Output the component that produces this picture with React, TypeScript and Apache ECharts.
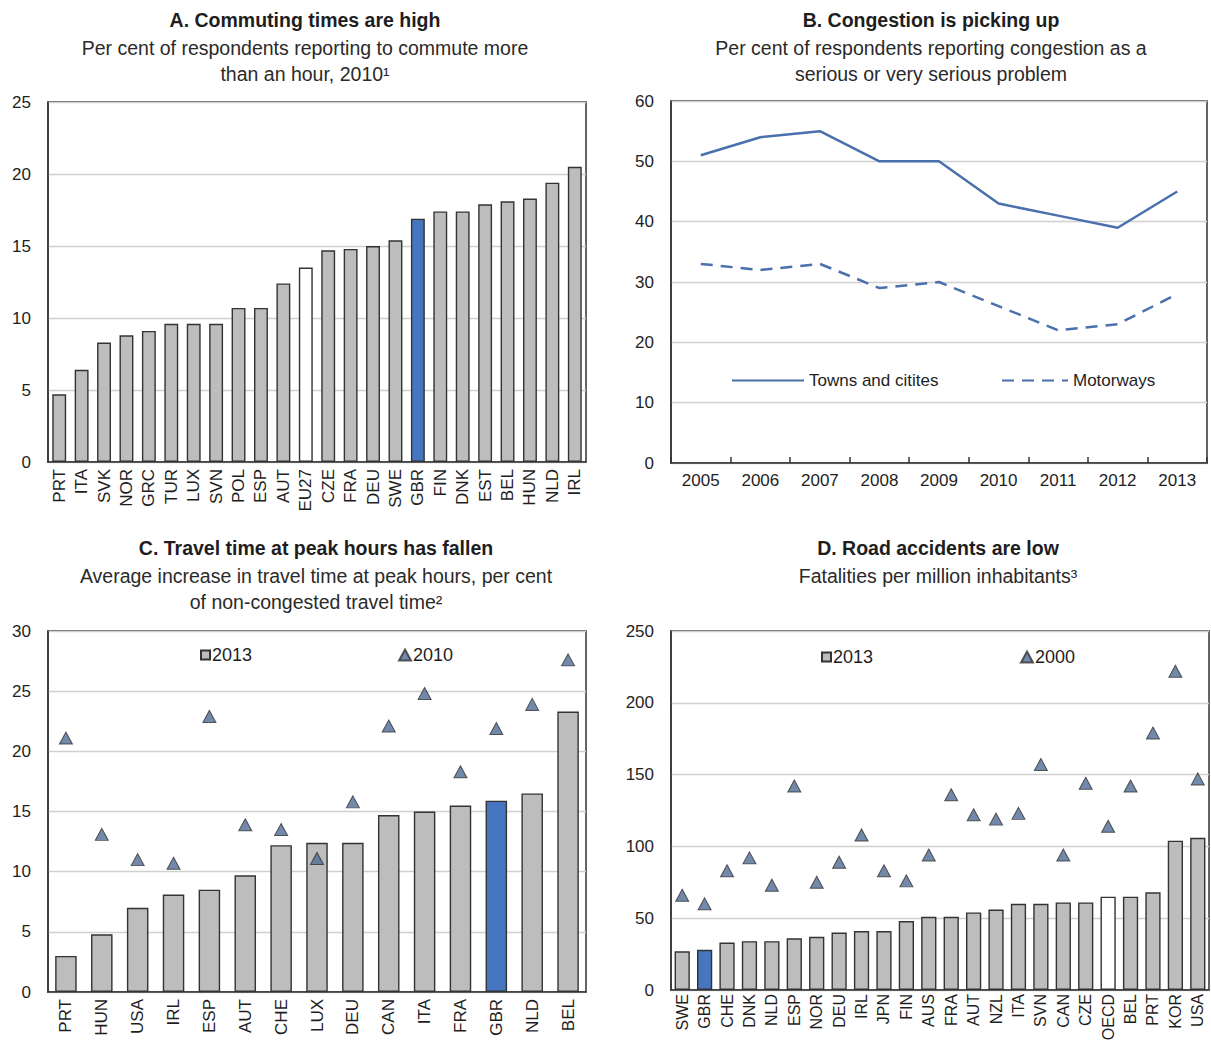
import { useEffect, useRef } from 'react';
import * as echarts from 'echarts';

// Panel A: commuting more than an hour, 2010
const commuteCountries = ['PRT', 'ITA', 'SVK', 'NOR', 'GRC', 'TUR', 'LUX', 'SVN', 'POL', 'ESP', 'AUT', 'EU27',
  'CZE', 'FRA', 'DEU', 'SWE', 'GBR', 'FIN', 'DNK', 'EST', 'BEL', 'HUN', 'NLD', 'IRL'];
const commuteValues = [4.7, 6.4, 8.3, 8.8, 9.1, 9.6, 9.6, 9.6, 10.7, 10.7, 12.4, 13.5,
  14.7, 14.8, 15.0, 15.4, 16.9, 17.4, 17.4, 17.9, 18.1, 18.3, 19.4, 20.5];

// Panel B: congestion as a serious problem
const congestionYears = ['2005', '2006', '2007', '2008', '2009', '2010', '2011', '2012', '2013'];
const townsValues = [51, 54, 55, 50, 50, 43, 41, 39, 45];
const motorwaysValues = [33, 32, 33, 29, 30, 26, 22, 23, 28];

// Panel C: travel time at peak hours
const peakCountries = ['PRT', 'HUN', 'USA', 'IRL', 'ESP', 'AUT', 'CHE', 'LUX', 'DEU', 'CAN', 'ITA', 'FRA', 'GBR', 'NLD', 'BEL'];
const peak2013 = [3.0, 4.8, 7.0, 8.1, 8.5, 9.7, 12.2, 12.4, 12.4, 14.7, 15.0, 15.5, 15.9, 16.5, 23.3];
const peak2010 = [21.1, 13.1, 11.0, 10.7, 22.9, 13.9, 13.5, 11.1, 15.8, 22.1, 24.8, 18.3, 21.9, 23.9, 27.6];

// Panel D: road fatalities per million inhabitants
const roadCountries = ['SWE', 'GBR', 'CHE', 'DNK', 'NLD', 'ESP', 'NOR', 'DEU', 'IRL', 'JPN', 'FIN', 'AUS',
  'FRA', 'AUT', 'NZL', 'ITA', 'SVN', 'CAN', 'CZE', 'OECD', 'BEL', 'PRT', 'KOR', 'USA'];
const road2013 = [27, 28, 33, 34, 34, 36, 37, 40, 41, 41, 48, 51, 51, 54, 56, 60, 60, 61, 61, 65, 65, 68, 104, 106];
const road2000 = [66, 60, 83, 92, 73, 142, 75, 89, 108, 83, 76, 94, 136, 122, 119, 123, 157, 94, 144, 114, 142, 179, 222, 147];

const FONT = "'Liberation Sans', Arial, sans-serif";
const TEXT = '#1e1e1e';
const GREY = '#bdbdbd';
const BLUE = '#4676c0';
const EDGE = '#333333';
const LINE = '#4a70ae';
const TRI = '#4f6b95';

function barItems(names: string[], values: number[], blue: string, white?: string) {
  return values.map((v, i) => {
    if (names[i] === blue) return { value: v, itemStyle: { color: BLUE } };
    if (names[i] === white) return { value: v, itemStyle: { color: '#ffffff' } };
    return v;
  });
}

function valueAxis(gridIndex: number, max: number, interval: number) {
  return {
    type: 'value',
    gridIndex,
    min: 0,
    max,
    interval,
    axisLine: { show: true, lineStyle: { color: EDGE, width: 1.5 } },
    axisTick: { show: false },
    axisLabel: { color: TEXT, fontSize: 17, fontFamily: FONT, margin: 17 },
    splitLine: { lineStyle: { color: '#d0d0d0', width: 1.3 } },
  };
}

function countryAxis(gridIndex: number, data: string[], fontSize = 17, margin = 7) {
  return {
    type: 'category',
    gridIndex,
    data,
    axisLine: { lineStyle: { color: EDGE, width: 1.5 } },
    axisTick: { show: false },
    axisLabel: { color: TEXT, fontSize, fontFamily: FONT, rotate: 90, margin, interval: 0 },
  };
}

function heading(x: number, y: number, title: string, lines: string[]) {
  const items: any[] = [{
    type: 'text', x, y,
    style: { text: title, fill: TEXT, font: `bold 19.5px ${FONT}`, align: 'center', verticalAlign: 'middle' },
  }];
  lines.forEach((t, i) => items.push({
    type: 'text', x, y: y + 28 + i * 26,
    style: { text: t, fill: '#2a2a2a', font: `19.5px ${FONT}`, align: 'center', verticalAlign: 'middle' },
  }));
  return items;
}

const legendText = { color: TEXT, fontSize: 18, fontFamily: FONT, padding: [0, 0, 0, -3] };

export default function App() {
  const chartRef = useRef<HTMLDivElement>(null);

  useEffect(() => {
    if (!chartRef.current) return;
    document.body.style.margin = '0';
    const chart = echarts.init(chartRef.current, undefined, { renderer: 'svg' });

    // the plots keep their own size; label room is handled by hand
    const frame = {
      show: true, borderColor: EDGE, borderWidth: 1.5, backgroundColor: 'transparent',
      containLabel: false, outerBoundsMode: 'none',
    };
    const barEdge = { borderColor: EDGE, borderWidth: 1.4 };
    const lineLegend = { textStyle: { color: TEXT, fontSize: 17, fontFamily: FONT }, selectedMode: false,
      itemHeight: 14, itemGap: 4, itemStyle: { opacity: 0 } };

    const option: any = {
      animation: false,
      backgroundColor: '#ffffff',
      graphic: [
        ...heading(305, 20, 'A. Commuting times are high',
          ['Per cent of respondents reporting to commute more', 'than an hour, 2010¹']),
        ...heading(931, 20, 'B. Congestion is picking up',
          ['Per cent of respondents reporting congestion as a', 'serious or very serious problem']),
        ...heading(316, 548, 'C. Travel time at peak hours has fallen',
          ['Average increase in travel time at peak hours, per cent', 'of non-congested travel time²']),
        ...heading(938, 548, 'D. Road accidents are low', ['Fatalities per million inhabitants³']),
      ],
      grid: [
        { left: 48, top: 102, width: 538, height: 360, ...frame },
        { left: 671, top: 101, width: 536, height: 362, ...frame },
        { left: 48, top: 631, width: 538, height: 361, ...frame },
        { left: 671, top: 631, width: 538, height: 359, ...frame },
      ],
      legend: [
        { data: ['Towns and citites'], left: 726, top: 367, itemWidth: 72, ...lineLegend },
        { data: ['Motorways'], left: 996, top: 367, itemWidth: 66, ...lineLegend },
        {
          data: ['2013'], left: 195, top: 641, icon: 'rect', itemWidth: 9, itemHeight: 9, itemGap: 2,
          textStyle: legendText, selectedMode: false,
        },
        {
          data: ['2010'], left: 393, top: 641, itemWidth: 12, itemHeight: 11,
          textStyle: legendText, selectedMode: false,
        },
        {
          data: ['2013'], left: 816, top: 643, icon: 'rect', itemWidth: 9, itemHeight: 9,
          textStyle: legendText, selectedMode: false,
        },
        {
          data: ['2000'], left: 1015, top: 643, itemWidth: 12, itemHeight: 11,
          textStyle: legendText, selectedMode: false,
        },
      ],
      xAxis: [
        countryAxis(0, commuteCountries),
        {
          type: 'category',
          gridIndex: 1,
          data: congestionYears,
          axisLine: { lineStyle: { color: EDGE, width: 1.5 } },
          axisTick: { show: true, inside: true, length: 6, lineStyle: { color: EDGE, width: 1.5 } },
          axisLabel: { color: TEXT, fontSize: 17, fontFamily: FONT, margin: 9 },
        },
        countryAxis(2, peakCountries),
        countryAxis(3, roadCountries, 16, 4),
      ],
      yAxis: [
        valueAxis(0, 25, 5),
        valueAxis(1, 60, 10),
        valueAxis(2, 30, 5),
        valueAxis(3, 250, 50),
      ],
      series: [
        {
          type: 'bar', name: 'Commuting', xAxisIndex: 0, yAxisIndex: 0, barWidth: '62%',
          itemStyle: { color: GREY, ...barEdge },
          data: barItems(commuteCountries, commuteValues, 'GBR', 'EU27'),
        },
        {
          type: 'line', name: 'Towns and citites', xAxisIndex: 1, yAxisIndex: 1, symbol: 'none',
          lineStyle: { color: LINE, width: 2.5 }, itemStyle: { color: LINE },
          data: townsValues,
        },
        {
          type: 'line', name: 'Motorways', xAxisIndex: 1, yAxisIndex: 1, symbol: 'none',
          lineStyle: { color: LINE, width: 2.5, type: [12, 8] }, itemStyle: { color: LINE },
          data: motorwaysValues,
        },
        {
          type: 'bar', name: '2013', xAxisIndex: 2, yAxisIndex: 2, barWidth: '60%',
          itemStyle: { color: GREY, ...barEdge },
          data: barItems(peakCountries, peak2013, 'GBR'),
        },
        {
          type: 'scatter', name: '2010', xAxisIndex: 2, yAxisIndex: 2, symbol: 'triangle', symbolSize: [13, 12],
          itemStyle: { color: TRI, borderColor: EDGE, borderWidth: 1 },
          data: peak2010,
        },
        {
          type: 'bar', name: '2013', xAxisIndex: 3, yAxisIndex: 3, barWidth: '68%',
          itemStyle: { color: GREY, ...barEdge },
          data: barItems(roadCountries, road2013, 'GBR', 'OECD'),
        },
        {
          type: 'scatter', name: '2000', xAxisIndex: 3, yAxisIndex: 3, symbol: 'triangle', symbolSize: [13, 12],
          itemStyle: { color: TRI, borderColor: EDGE, borderWidth: 1 },
          data: road2000,
        },
      ],
    };

    chart.setOption(option);

    return () => {
      chart.dispose();
    };
  }, []);

  return <div ref={chartRef} style={{ width: '1211px', height: '1041px' }} />;
}
